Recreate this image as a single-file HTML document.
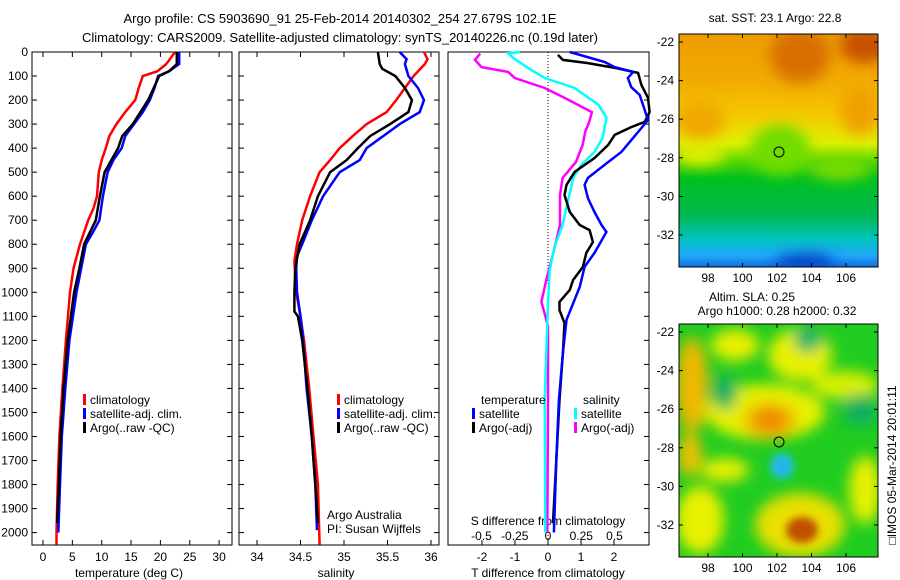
<!DOCTYPE html>
<html><head><meta charset="utf-8">
<style>
body{margin:0;background:#fff;}
svg{display:block;font-family:"Liberation Sans",sans-serif;}
text{font-size:12px;fill:#000;}
</style></head>
<body>
<svg id="fig" width="900" height="580" viewBox="0 0 900 580">
<defs>
<filter id="blr" x="-20%" y="-20%" width="140%" height="140%"><feGaussianBlur stdDeviation="7"/></filter>
<filter id="blr2" x="-20%" y="-20%" width="140%" height="140%"><feGaussianBlur stdDeviation="4"/></filter>
<linearGradient id="sstg" x1="0" y1="0" x2="0" y2="1">
<stop offset="0" stop-color="#ec9c00"/><stop offset="0.2" stop-color="#f2aa00"/>
<stop offset="0.36" stop-color="#f5cc00"/><stop offset="0.47" stop-color="#dcf000"/>
<stop offset="0.55" stop-color="#50d400"/><stop offset="0.62" stop-color="#00c020"/>
<stop offset="0.78" stop-color="#00b850"/><stop offset="0.88" stop-color="#00c4c0"/>
<stop offset="0.95" stop-color="#20a8f8"/><stop offset="1" stop-color="#1070e0"/>
</linearGradient>
<clipPath id="c1"><rect x="679" y="34" width="199" height="233"/></clipPath>
<clipPath id="c2"><rect x="679" y="324" width="199" height="233"/></clipPath>
</defs>
<text x="340" y="23" text-anchor="middle" style="font-size:13px">Argo profile: CS 5903690_91 25-Feb-2014 20140302_254 27.679S 102.1E</text>
<text x="340" y="42" text-anchor="middle" style="font-size:13px">Climatology: CARS2009. Satellite-adjusted climatology: synTS_20140226.nc (0.19d later)</text>
<g id="p1"></g>
<g id="p2"></g>
<g id="p3"></g>

<g>
<g clip-path="url(#c1)">
<rect x="679" y="34" width="199" height="233" fill="url(#sstg)"/>
<g filter="url(#blr)">
<ellipse cx="800" cy="55" rx="30" ry="28" fill="#d87000"/>
<ellipse cx="865" cy="45" rx="25" ry="18" fill="#c85000"/>
<ellipse cx="700" cy="120" rx="25" ry="20" fill="#f0a800"/>
<ellipse cx="860" cy="110" rx="20" ry="25" fill="#f0a000"/>
<ellipse cx="780" cy="150" rx="30" ry="25" fill="#70dc00"/>
<ellipse cx="700" cy="155" rx="25" ry="10" fill="#e8f000"/>
<ellipse cx="840" cy="170" rx="30" ry="10" fill="#80dc00"/>
<ellipse cx="805" cy="262" rx="30" ry="8" fill="#0040c0"/>
</g>
</g>
<rect x="679" y="34" width="199" height="233" fill="none" stroke="#000"/>
<circle cx="779" cy="152" r="5" fill="none" stroke="#000"/>
</g>
<text x="775" y="22" text-anchor="middle">sat. SST: 23.1 Argo: 22.8</text>

<g>
<g clip-path="url(#c2)">
<rect x="679" y="324" width="199" height="233" fill="#20cc20"/>
<g filter="url(#blr)">
<ellipse cx="765" cy="412" rx="60" ry="28" fill="#e8f000"/>
<ellipse cx="770" cy="420" rx="26" ry="18" fill="#f0a800"/>
<ellipse cx="800" cy="355" rx="32" ry="26" fill="#e8f000"/>
<ellipse cx="692" cy="385" rx="16" ry="48" fill="#f0b800"/>
<ellipse cx="735" cy="345" rx="24" ry="16" fill="#e8f000"/>
<ellipse cx="845" cy="385" rx="34" ry="14" fill="#d8f000"/>
<ellipse cx="725" cy="392" rx="12" ry="18" fill="#10b060"/>
<ellipse cx="808" cy="340" rx="14" ry="12" fill="#10b070"/>
<ellipse cx="860" cy="410" rx="18" ry="16" fill="#10b060"/>
<ellipse cx="800" cy="525" rx="45" ry="32" fill="#e8e000"/>
<ellipse cx="700" cy="520" rx="24" ry="34" fill="#e8f000"/>
<ellipse cx="725" cy="470" rx="24" ry="12" fill="#e8f000"/>
<ellipse cx="865" cy="490" rx="16" ry="34" fill="#e8f000"/>
<ellipse cx="690" cy="455" rx="12" ry="22" fill="#f0c000"/>
</g>
<g filter="url(#blr2)">
<ellipse cx="802" cy="530" rx="16" ry="13" fill="#c05000"/>
<ellipse cx="782" cy="466" rx="12" ry="13" fill="#20c0e0"/>
<circle cx="782" cy="466" r="5" fill="#20a0ff"/>
<ellipse cx="770" cy="420" rx="12" ry="9" fill="#f09000"/>
</g>
</g>
<rect x="679" y="324" width="199" height="233" fill="none" stroke="#000"/>
<circle cx="779" cy="442" r="5" fill="none" stroke="#000"/>
</g>
<text x="752" y="301" text-anchor="middle">Altim. SLA: 0.25</text>
<text x="777" y="315" text-anchor="middle">Argo h1000: 0.28 h2000: 0.32</text>
<text transform="translate(896,465) rotate(-90)" text-anchor="middle">&#9633;IMOS 05-Mar-2014 20:01:11</text>
<g id="maps-axes"></g>
</svg>
<script>
// ---- data ----
const tClimDepth=[0,50,80,100,150,200,250,300,350,400,450,500,600,650,700,800,900,1000,1200,1400,1600,1800,2000,2050];
const tClim=[22.5,21,19.5,17,16.3,15.7,14,12.5,11.3,10.7,10,9.5,9.2,8.6,7.7,6.3,5.2,4.6,3.9,3.3,2.8,2.5,2.3,2.3];
const tSatDepth=[0,50,80,100,150,200,250,300,350,400,450,500,600,700,750,800,900,1000,1200,1400,1600,1800,2000];
const tSat=[23.2,23.2,21.5,19.6,19,18.2,17,15.5,14,13.4,12,11,10.2,9.6,8.5,7.3,6.5,5.7,4.5,3.8,3.2,2.9,2.6];
const tArgoDepth=[0,50,80,100,200,300,350,400,500,600,700,800,900,1000,1200,1400,1600,1800,1960];
const tArgo=[22.8,22.8,21.5,19.8,17.9,15.3,13.5,12.8,10.5,9.7,9,7,6.2,5.3,4.2,3.5,3.0,2.7,2.4];
const sClimDepth=[0,30,50,100,150,200,250,300,350,400,450,500,600,700,800,870,1000,1100,1200,1400,1600,1800,2050];
const sClim=[35.92,35.96,35.93,35.8,35.7,35.6,35.49,35.26,35.1,34.95,34.84,34.72,34.61,34.52,34.46,34.43,34.45,34.5,34.54,34.6,34.65,34.7,34.72];
const sSatDepth=[0,30,50,100,150,200,250,300,350,400,450,500,600,700,800,850,900,1000,1100,1200,1400,1600,1800,1990];
const sSat=[35.64,35.72,35.7,35.74,35.85,35.92,35.87,35.64,35.45,35.26,35.18,34.95,34.76,34.63,34.52,34.46,34.45,34.46,34.5,34.53,34.57,34.63,34.67,34.69];
const sArgoDepth=[0,50,70,100,150,200,250,300,350,400,450,500,600,700,800,900,1000,1080,1100,1200,1400,1600,1800,1960];
const sArgo=[35.39,35.41,35.44,35.59,35.7,35.78,35.74,35.53,35.3,35.16,35.03,34.84,34.7,34.61,34.49,34.44,34.43,34.43,34.47,34.52,34.58,34.63,34.67,34.7];
const dTSatDepth=[0,42,63,83,108,146,179,220,283,333,416,458,524,553,608,666,720,749,836,894,978,1115,1253,1448,1700,1999];
const dTSat=[0.66,1.72,2.02,2.58,2.42,2.52,2.78,2.88,3.03,2.73,2.22,1.82,1.21,1.11,1.21,1.41,1.62,1.77,1.41,1.11,0.96,0.56,0.45,0.33,0.25,0.18];
const dTArgoDepth=[12,33,46,67,87,137,191,250,291,312,345,387,441,499,553,595,666,720,741,791,836,894,949,990,1040,1074,1128,1253,1448,1700,1960];
const dTArgo=[0.3,0.45,1.21,2.07,2.73,2.83,3.03,3.08,2.93,2.53,2.02,1.82,1.41,0.81,0.56,0.5,0.66,0.96,1.26,1.36,1.16,1.06,0.76,0.66,0.35,0.35,0.5,0.45,0.35,0.25,0.15];
const dSSatDepth=[0,5,25,66,108,150,220,274,358,416,470,524,595,720,810,907,1045,1253,1448,1999];
const dSSat=[-0.21,-0.3,-0.26,-0.15,-0.025,0.2,0.38,0.44,0.41,0.35,0.25,0.19,0.16,0.11,0.05,0.013,0,-0.013,-0.025,-0.02];
const dSArgoDepth=[7,33,63,83,108,150,191,250,291,333,387,458,524,595,720,836,949,1040,1089,1142,1448,1999];
const dSArgo=[-0.51,-0.55,-0.5,-0.3,-0.25,-0.025,0.125,0.33,0.31,0.28,0.26,0.21,0.11,0.09,0.09,0.04,-0.013,-0.05,-0.025,0,0,-0.005];
const depthTicks=[0,100,200,300,400,500,600,700,800,900,1000,1100,1200,1300,1400,1500,1600,1700,1800,1900,2000];
const tTicks=[0,5,10,15,20,25,30];
const sTicks=[34,34.5,35,35.5,36];
const dTTicks=[-2,-1,0,1,2];
const dSTicks=[-0.5,-0.25,0,0.25,0.5];
const dSTickLabels=['-0.5','-0.25','0','0.25','0.5'];
const lonTicks=[98,100,102,104,106];
const latTicks=[-22,-24,-26,-28,-30,-32];

const NS='http://www.w3.org/2000/svg';
function mk(tag,attrs,parent,txt){const e=document.createElementNS(NS,tag);for(const k in attrs)e.setAttribute(k,attrs[k]);if(txt!==undefined)e.textContent=txt;parent.appendChild(e);return e;}
const TOP=52,BOT=545;
const yD=d=>TOP+d*0.2403;
function line(g,xs,ds,fx,color,w,name){
  const pts=xs.map((v,i)=>fx(v).toFixed(1)+','+yD(ds[i]).toFixed(1)).join(' ');
  const p=mk('polyline',{points:pts,fill:'none',stroke:color,'stroke-width':w,'stroke-linejoin':'miter'},g);
  
  
}
function frame(g,x0,x1,left,right){
  mk('rect',{x:x0,y:TOP,width:x1-x0,height:BOT-TOP,fill:'none',stroke:'#000','stroke-width':1},g);
  depthTicks.forEach(d=>{const y=yD(d);
    if(left)mk('line',{x1:x0,x2:x0+5,y1:y,y2:y,stroke:'#000'},g);
    if(right)mk('line',{x1:x1-5,x2:x1,y1:y,y2:y,stroke:'#000'},g);});
}
function legendEntry(g,x,y,color,label,name){
  const r=mk('rect',{x:x,y:y-10,width:3,height:11,fill:color},g);
  
  
  const t=mk('text',{x:x+7,y:y},g,label);
  
  
}
// panel 1
const g1=document.getElementById('p1');
const xT=v=>43+v*5.87;
frame(g1,32,232,true,true);
depthTicks.forEach(d=>{const t=mk('text',{x:28,y:yD(d)+4,'text-anchor':'end'},g1,String(d));});
tTicks.forEach(v=>{mk('line',{x1:xT(v),x2:xT(v),y1:BOT,y2:BOT-5,stroke:'#000'},g1);mk('line',{x1:xT(v),x2:xT(v),y1:TOP,y2:TOP+5,stroke:'#000'},g1);
  const t=mk('text',{x:xT(v),y:561,'text-anchor':'middle'},g1,String(v));});
mk('text',{x:129,y:577,'text-anchor':'middle',},g1,'temperature (deg C)');
line(g1,tClim,tClimDepth,xT,'#ff0000',2.5,'temperature-climatology-line');
line(g1,tSat,tSatDepth,xT,'#0000ff',2.5,'temperature-satellite-line');
line(g1,tArgo,tArgoDepth,xT,'#000000',2.5,'temperature-argo-line');
legendEntry(g1,83,404,'#ff0000','climatology','legend-climatology');
legendEntry(g1,83,418,'#0000ff','satellite-adj. clim.','legend-satellite-adj');
legendEntry(g1,83,432,'#000000','Argo(..raw -QC)','legend-argo');
// panel 2
const g2=document.getElementById('p2');
const xS=v=>257+(v-34)*87;
frame(g2,239,439,true,true);
sTicks.forEach(v=>{mk('line',{x1:xS(v),x2:xS(v),y1:BOT,y2:BOT-5,stroke:'#000'},g2);mk('line',{x1:xS(v),x2:xS(v),y1:TOP,y2:TOP+5,stroke:'#000'},g2);
  const t=mk('text',{x:xS(v),y:561,'text-anchor':'middle'},g2,String(v));});
mk('text',{x:336,y:577,'text-anchor':'middle',},g2,'salinity');
line(g2,sClim,sClimDepth,xS,'#ff0000',2.5,'salinity-climatology-line');
line(g2,sSat,sSatDepth,xS,'#0000ff',2.5,'salinity-satellite-line');
line(g2,sArgo,sArgoDepth,xS,'#000000',2.5,'salinity-argo-line');
legendEntry(g2,337,404,'#ff0000','climatology','legend-climatology-2');
legendEntry(g2,337,418,'#0000ff','satellite-adj. clim.','legend-satellite-adj-2');
legendEntry(g2,337,432,'#000000','Argo(..raw -QC)','legend-argo-2');
mk('text',{x:327,y:519,},g2,'Argo Australia');
mk('text',{x:327,y:533,},g2,'PI: Susan Wijffels');
// panel 3
const g3=document.getElementById('p3');
const xDT=v=>548+v*33;
const xDS=v=>548+v*133;
frame(g3,448,649,false,true);
mk('line',{x1:548,x2:548,y1:TOP,y2:BOT,stroke:'#000','stroke-dasharray':'1,2',},g3);
dTTicks.forEach(v=>{mk('line',{x1:xDT(v),x2:xDT(v),y1:BOT,y2:BOT-5,stroke:'#000'},g3);
  const t=mk('text',{x:xDT(v),y:561,'text-anchor':'middle'},g3,String(v));});
dSTicks.forEach((v,i)=>{const t=mk('text',{x:xDS(v),y:540,'text-anchor':'middle'},g3,dSTickLabels[i]);});
mk('text',{x:548,y:525,'text-anchor':'middle',},g3,'S difference from climatology');
mk('text',{x:548,y:577,'text-anchor':'middle',},g3,'T difference from climatology');
line(g3,dSArgo,dSArgoDepth,xDS,'#ff00ff',2.5,'s-diff-argo-line');
line(g3,dSSat,dSSatDepth,xDS,'#00ffff',2.5,'s-diff-satellite-line');
line(g3,dTArgo,dTArgoDepth,xDT,'#000000',2.5,'t-diff-argo-line');
line(g3,dTSat,dTSatDepth,xDT,'#0000ff',2.5,'t-diff-satellite-line');
mk('text',{x:481,y:404,},g3,'temperature');
mk('text',{x:583,y:404,},g3,'salinity');
legendEntry(g3,472,418,'#0000ff','satellite','legend-t-satellite');
legendEntry(g3,472,432,'#000000','Argo(-adj)','legend-t-argo');
legendEntry(g3,574,418,'#00ffff','satellite','legend-s-satellite');
legendEntry(g3,574,432,'#ff00ff','Argo(-adj)','legend-s-argo');
// map axes
const ga=document.getElementById('maps-axes');
const xLon=v=>708+(v-98)*17.25;
[[34,267,42],[324,557,332]].forEach(([t,b,y22])=>{
  lonTicks.forEach(v=>{mk('line',{x1:xLon(v),x2:xLon(v),y1:b,y2:b-4,stroke:'#000'},ga);mk('line',{x1:xLon(v),x2:xLon(v),y1:t,y2:t+4,stroke:'#000'},ga);
    const tx=mk('text',{x:xLon(v),y:b+15,'text-anchor':'middle'},ga,String(v));});
  latTicks.forEach(v=>{const y=y22+(-22-v)*19.3;mk('line',{x1:679,x2:683,y1:y,y2:y,stroke:'#000'},ga);mk('line',{x1:874,x2:878,y1:y,y2:y,stroke:'#000'},ga);
    const tx=mk('text',{x:674,y:y+4,'text-anchor':'end'},ga,String(v));});
});
</script>
</body></html>
